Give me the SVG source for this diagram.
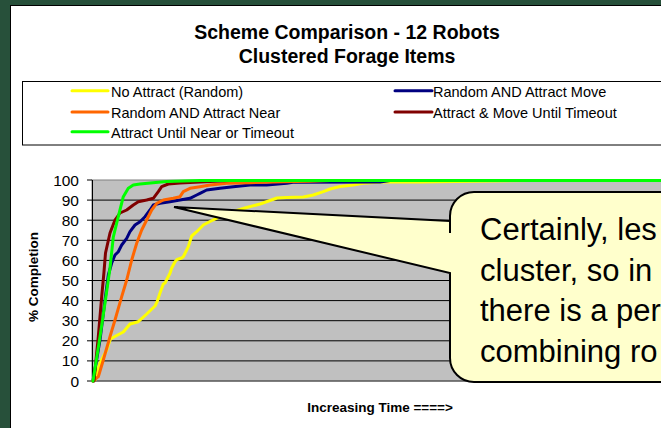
<svg xmlns="http://www.w3.org/2000/svg" width="661" height="428" viewBox="0 0 661 428">
  <style>
    text { font-family: "Liberation Sans", Arial, sans-serif; fill: #000; }
    .title { font-size: 19.5px; font-weight: bold; text-anchor: middle; }
    .leg { font-size: 14.5px; }
    .ylab { font-size: 15.5px; text-anchor: end; }
    .axt { font-size: 13.5px; font-weight: bold; text-anchor: middle; }
    .grid { stroke: #000; stroke-width: 1; }
    .tick { stroke: #000; stroke-width: 1; }
    .series { fill: none; stroke-width: 3; stroke-linejoin: round; stroke-linecap: round; }
    .s-yellow { stroke: #FFFF00; }
    .s-navy { stroke: #000080; }
    .s-orange { stroke: #FF6600; }
    .s-maroon { stroke: #800000; }
    .s-green { stroke: #00FF00; }
    .callout-text { font-size: 31px; }
  </style>

  <!-- slide background -->
  <rect x="0" y="0" width="661" height="428" fill="#27503a"/>

  <!-- chart area -->
  <g id="chart-area">
    <rect x="10.5" y="5.5" width="700" height="440" fill="#ffffff" stroke="#000" stroke-width="1"/>
  </g>

  <!-- chart title -->
  <g id="title">
    <text class="title" x="347" y="39">Scheme Comparison - 12 Robots</text>
    <text class="title" x="347" y="63">Clustered Forage Items</text>
  </g>

  <!-- legend -->
  <g id="legend">
    <rect x="22.5" y="81.5" width="700" height="63.5" fill="#ffffff" stroke="#000" stroke-width="1"/>
    <line class="series s-yellow" x1="72" y1="90.7" x2="108" y2="90.7" stroke-linecap="butt"/>
    <text class="leg" x="111" y="96.5">No Attract (Random)</text>
    <line class="series s-orange" x1="72" y1="112" x2="108" y2="112" stroke-linecap="butt"/>
    <text class="leg" x="111" y="117.8">Random AND Attract Near</text>
    <line class="series s-green" x1="72" y1="131.7" x2="108" y2="131.7" stroke-linecap="butt"/>
    <text class="leg" x="111" y="137.5">Attract Until Near or Timeout</text>
    <line class="series s-navy" x1="395" y1="90.7" x2="432" y2="90.7" stroke-linecap="butt"/>
    <text class="leg" x="433" y="96.5">Random AND Attract Move</text>
    <line class="series s-maroon" x1="395" y1="112" x2="432" y2="112" stroke-linecap="butt"/>
    <text class="leg" x="433" y="117.8">Attract &amp; Move Until Timeout</text>
  </g>

  <!-- plot area with gridlines -->
  <g id="plot">
    <rect x="92" y="180" width="620" height="201" fill="#C0C0C0" stroke="#808080" stroke-width="1"/>
    <line class="grid" x1="92" y1="200.1" x2="661" y2="200.1"/>
    <line class="grid" x1="92" y1="220.2" x2="661" y2="220.2"/>
    <line class="grid" x1="92" y1="240.3" x2="661" y2="240.3"/>
    <line class="grid" x1="92" y1="260.4" x2="661" y2="260.4"/>
    <line class="grid" x1="92" y1="280.5" x2="661" y2="280.5"/>
    <line class="grid" x1="92" y1="300.6" x2="661" y2="300.6"/>
    <line class="grid" x1="92" y1="320.7" x2="661" y2="320.7"/>
    <line class="grid" x1="92" y1="340.8" x2="661" y2="340.8"/>
    <line class="grid" x1="92" y1="360.9" x2="661" y2="360.9"/>
    <line x1="92" y1="381" x2="661" y2="381" stroke="#404040" stroke-width="1"/>
    <line x1="92.5" y1="180" x2="92.5" y2="381" stroke="#000" stroke-width="1"/>
  </g>

  <!-- value axis -->
  <g id="y-axis">
    <line class="tick" x1="87" y1="180" x2="92" y2="180"/>
    <line class="tick" x1="87" y1="200.1" x2="92" y2="200.1"/>
    <line class="tick" x1="87" y1="220.2" x2="92" y2="220.2"/>
    <line class="tick" x1="87" y1="240.3" x2="92" y2="240.3"/>
    <line class="tick" x1="87" y1="260.4" x2="92" y2="260.4"/>
    <line class="tick" x1="87" y1="280.5" x2="92" y2="280.5"/>
    <line class="tick" x1="87" y1="300.6" x2="92" y2="300.6"/>
    <line class="tick" x1="87" y1="320.7" x2="92" y2="320.7"/>
    <line class="tick" x1="87" y1="340.8" x2="92" y2="340.8"/>
    <line class="tick" x1="87" y1="360.9" x2="92" y2="360.9"/>
    <line class="tick" x1="87" y1="381" x2="92" y2="381"/>
    <text class="ylab" x="79" y="185.5">100</text>
    <text class="ylab" x="79" y="205.6">90</text>
    <text class="ylab" x="79" y="225.7">80</text>
    <text class="ylab" x="79" y="245.8">70</text>
    <text class="ylab" x="79" y="265.9">60</text>
    <text class="ylab" x="79" y="286">50</text>
    <text class="ylab" x="79" y="306.1">40</text>
    <text class="ylab" x="79" y="326.2">30</text>
    <text class="ylab" x="79" y="346.3">20</text>
    <text class="ylab" x="79" y="366.4">10</text>
    <text class="ylab" x="79" y="386.5">0</text>
    <text class="axt" transform="translate(38,277) rotate(-90)">% Completion</text>
  </g>

  <g id="x-axis">
    <text class="axt" x="380" y="412">Increasing Time ====&gt;</text>
  </g>

  <!-- data series -->
  <g id="series">
    <polyline class="series s-yellow" points="93,381 95,380 100,363 106.7,350 110,340 111.7,338.3 116.7,335.5 123.3,332 130,324 138.3,321.7 146.7,314 155,306 157,302 160,293 163.3,284 165,283 170,273.3 171.7,268 175,261.7 177,259.5 181.7,258 183.3,256.7 186.7,250 188.3,246.7 191.7,236 196.7,231.7 203.3,225 210,221.5 220,216.7 233.3,211.5 246.7,207.5 260,204 270,200.5 277,198 286.7,197.5 303.3,197 313.3,195 323.3,191.7 330,189 340,186.5 353,185 363,183.3 383,182 420,182 530,180.5 661,180.5"/>
    <polyline class="series s-navy" points="93,381 100,340 105,300 108.3,275 111.7,263 115,255 118.3,251.7 121.7,245 126.7,238.3 130,231.7 135,225 140,221.7 145,216.7 150,210 153.3,205 160,203.3 170,201.7 180,200 190,198.3 196.7,195 200,193.3 206.7,190 220,188.3 233.3,186.7 250,185 266.7,185 286.7,183.3 293,182.3 380,182 390,180.5 661,180.5"/>
    <polyline class="series s-orange" points="93,381 98.3,376.7 103.3,360 110,336.7 115,320 121.7,296.7 126.7,280 131.7,260 136.7,243.3 141.7,230 146.7,220 151.7,210 156.7,203.3 163.3,200 173.3,198.3 180,196.7 183.3,191.7 190,188.3 200,186.7 210,185 226.7,183.3 250,182.7 283,181.7 310,181.3 330,180.5 661,180.5"/>
    <polyline class="series s-maroon" points="94,381 98.3,336.7 101.7,296.7 104,272 105.5,253 110,233 115,220 120,213 126.7,210 133.3,205 138.3,201.7 146.7,200 153.3,198.3 158.3,191.7 161.7,186.7 168.3,184 180,183 200,182 230,180.5 661,180.5"/>
    <polyline class="series s-green" points="93,381 100,336.7 105,303 108.3,280 110,268 113.3,237 118.3,216.7 123.3,196.7 128.3,188.3 133.3,185 140,184 153,182.7 166.7,181.5 200,180.5 661,180.5"/>
  </g>

  <!-- callout -->
  <g id="callout">
    <path d="M450,233 L450,216 A24,24 0 0 1 474,192 L720,192 L720,382 L474,382 A24,24 0 0 1 450,358 L450,273 L174,207 L450,221 Z" fill="#FFFFCC" stroke="#000" stroke-width="2" stroke-linejoin="miter"/>
    <text class="callout-text" x="480" y="240">Certainly, les</text>
    <text class="callout-text" x="480" y="281">cluster, so in</text>
    <text class="callout-text" x="480" y="321">there is a per</text>
    <text class="callout-text" x="480" y="362">combining ro</text>
  </g>
</svg>
